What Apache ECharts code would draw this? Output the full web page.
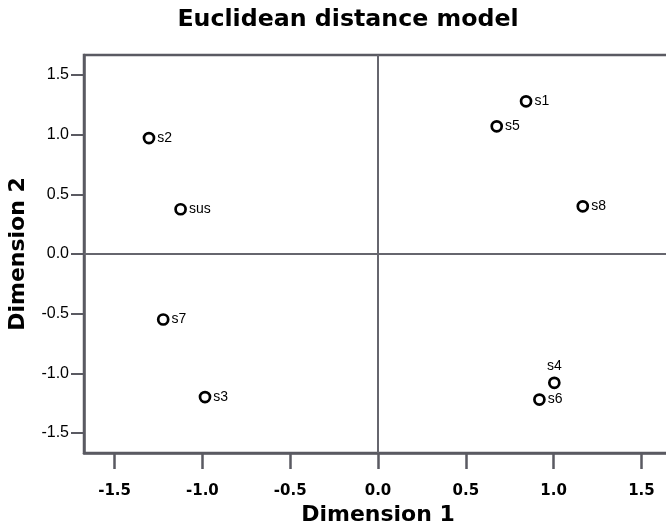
<!DOCTYPE html>
<html>
<head>
<meta charset="utf-8">
<script src="https://cdn.jsdelivr.net/npm/echarts@6/dist/echarts.min.js"></script>
<style>
  html, body { margin: 0; padding: 0; background: #fff; }
  #chart { width: 666px; height: 521px; }
</style>
</head>
<body>
<div id="chart"></div>
<script>
// stimulus names and their coordinates in the 2D solution
const names = ["s1", "s5", "s8", "s4", "s6", "s2", "sus", "s7", "s3"];
const dim1 = [0.843, 0.676, 1.166, 1.004, 0.919, -1.304, -1.124, -1.223, -0.985];
const dim2 = [1.28, 1.07, 0.40, -1.08, -1.22, 0.972, 0.375, -0.549, -1.199];
// tick positions on both axes
const xTicks = [-1.5, -1.0, -0.5, 0.0, 0.5, 1.0, 1.5];
const yTicks = [-1.5, -1.0, -0.5, 0.0, 0.5, 1.0, 1.5];

const myChart = echarts.init(document.getElementById("chart"));

const points = names.map((n, i) => ({
    name: n,
    value: [dim1[i], dim2[i]],
    label: n === "s4" ? {position: "top", distance: 3} : undefined,
}));

const axisColor = "#5a5a62";
const heavy = "DejaVu Sans";

const option = {
    backgroundColor: "#fff",
    animation: false,
    title: {
        text: "Euclidean distance model",
        left: 343,
        top: 3,
        textAlign: "center",
        textStyle: {
            fontFamily: heavy,
            fontWeight: "bold",
            fontSize: 23.7,
            color: "#000",
        },
    },
    grid: {
        left: 84,
        right: -6,
        top: 55,
        bottom: 68,
        outerBoundsMode: "none",
        show: true,
        borderColor: axisColor,
        borderWidth: 2.5,
        backgroundColor: "#fff",
    },
    xAxis: {
        type: "value",
        min: -1.674,
        max: 1.674,
        name: "Dimension 1",
        nameLocation: "middle",
        nameGap: 42,
        nameTextStyle: {
            fontFamily: heavy,
            fontWeight: "bold",
            fontSize: 22,
            color: "#000",
        },
        axisLine: {show: true, onZero: false, lineStyle: {color: axisColor, width: 2.5}},
        axisTick: {show: true, length: 16, customValues: xTicks, lineStyle: {color: axisColor, width: 2.5}},
        splitLine: {show: false},
        axisLabel: {
            margin: 31,
            customValues: xTicks,
            fontFamily: heavy,
            fontWeight: "bold",
            fontSize: 15,
            color: "#000",
            formatter: (v) => v.toFixed(1),
        },
    },
    yAxis: {
        type: "value",
        min: -1.668,
        max: 1.668,
        name: "Dimension 2",
        nameLocation: "middle",
        nameGap: 55,
        nameRotate: 90,
        nameTextStyle: {
            fontFamily: heavy,
            fontWeight: "bold",
            fontSize: 22,
            color: "#000",
        },
        axisLine: {show: true, onZero: false, lineStyle: {color: axisColor, width: 2.5}},
        axisTick: {show: true, length: 13, customValues: yTicks, lineStyle: {color: axisColor, width: 2}},
        splitLine: {show: false},
        axisLabel: {
            margin: 15,
            customValues: yTicks,
            fontFamily: "Liberation Sans",
            fontSize: 16,
            color: "#000",
            formatter: (v) => v.toFixed(1),
        },
    },
    series: [
        {
            type: "scatter",
            symbol: "circle",
            symbolSize: 10,
            itemStyle: {
                color: "#fff",
                borderColor: "#000",
                borderWidth: 2.7,
                opacity: 1,
            },
            label: {
                show: true,
                position: "right",
                distance: 2,
                formatter: "{b}",
                fontFamily: "Liberation Sans",
                fontSize: 14,
                color: "#000",
            },
            data: points,
            markLine: {
                silent: true,
                symbol: "none",
                label: {show: false},
                lineStyle: {color: "#66666e", width: 2, type: "solid"},
                data: [{xAxis: 0}, {yAxis: 0}],
                z: 1,
            },
            z: 3,
        },
    ],
};

option && myChart.setOption(option);
</script>
</body>
</html>
